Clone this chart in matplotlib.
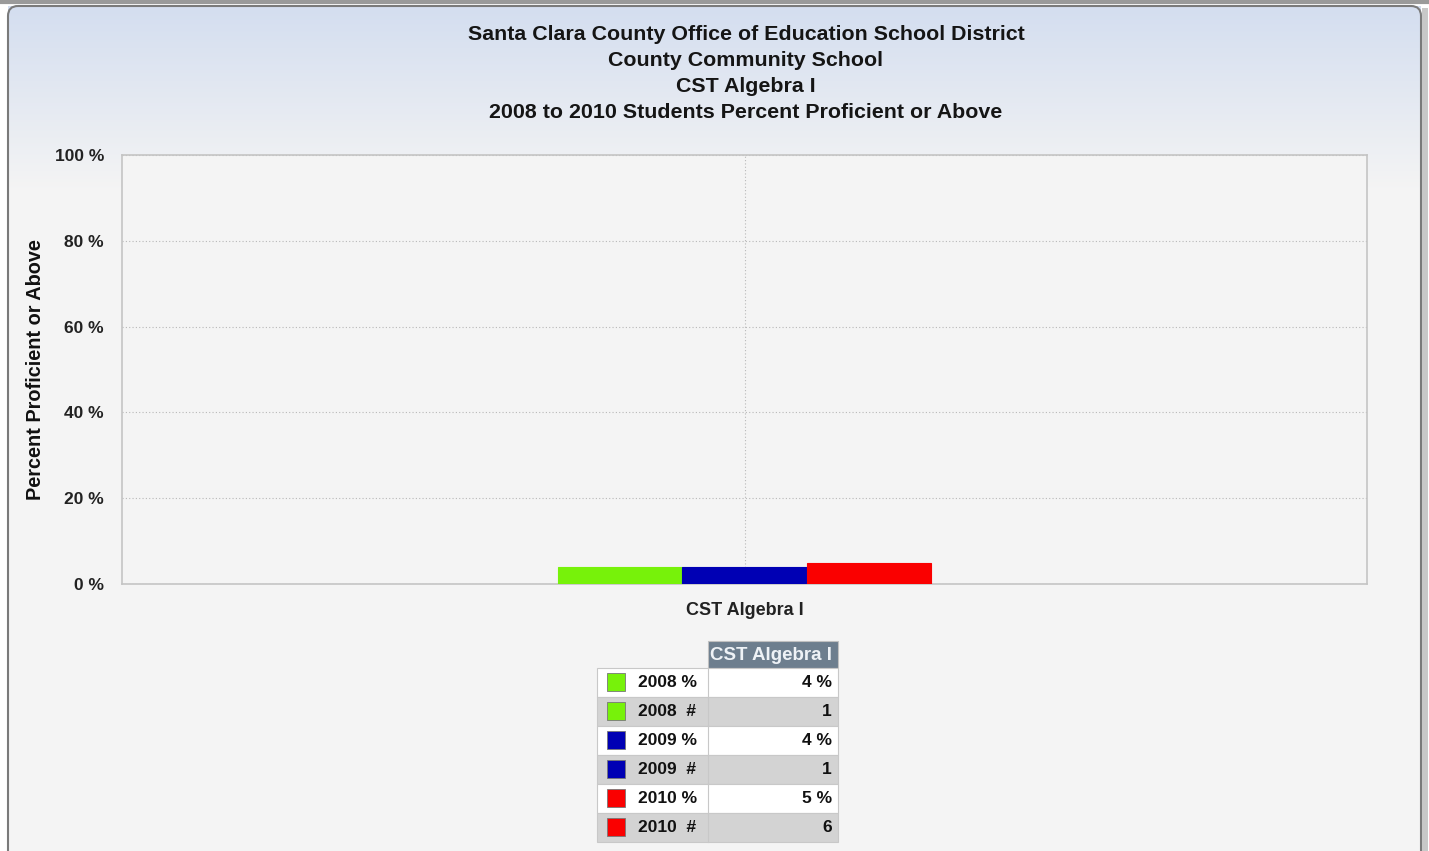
import matplotlib.pyplot as plt
import numpy as np
from matplotlib.patches import FancyBboxPatch, Rectangle

plt.rcParams['font.family'] = ['Liberation Sans', 'DejaVu Sans']

# Data
category = 'CST Algebra I'
years = ['2008', '2009', '2010']
pct_values = [4, 4, 5]
count_values = [1, 1, 6]
colors = ['#77f20a', '#0000b4', '#fa0000']
title_lines = ['Santa Clara County Office of Education School District',
               'County Community School',
               'CST Algebra I',
               '2008 to 2010 Students Percent Proficient or Above']

W, H = 1429, 851
fig = plt.figure(figsize=(W / 100, H / 100), dpi=100)
fig.patch.set_facecolor('white')

# full-figure pixel axes for the panel, titles and table
bg = fig.add_axes([0, 0, 1, 1])
bg.set_xlim(0, W)
bg.set_ylim(H, 0)
bg.axis('off')

# panel gradient (light blue at top -> light grey)
grad = np.linspace(0, 1, 256).reshape(-1, 1)
top_c = np.array([0.83, 0.87, 0.94])
bot_c = np.array([0.957, 0.957, 0.957])
t = np.clip(grad / 0.85, 0, 1)
img = top_c * (1 - t[..., None]) + bot_c * t[..., None]
img = img.reshape(256, 1, 3)
bg.imshow(img, extent=[8, 1421, 220, 6], aspect='auto', zorder=0)
bg.add_patch(Rectangle((8, 220), 1413, 640, facecolor='#f4f4f4', edgecolor='none', zorder=0))
panel = FancyBboxPatch((8, 6), 1413, 860, boxstyle='round,pad=0,rounding_size=10',
                       facecolor='none', edgecolor='#7a7a7a', linewidth=1.5, zorder=1)
bg.add_patch(panel)
bg.add_patch(Rectangle((1422, 8), 6, 850, facecolor='#c8c8c8', edgecolor='none', zorder=1))
bg.plot([0, W], [1.5, 1.5], color='#9a9a9a', linewidth=3, zorder=1)

for i, line in enumerate(title_lines):
    bg.text(746, 34 + i * 26, line, ha='center', va='center', fontsize=15.4,
            fontweight='bold', color='#151515', zorder=3)

# main chart axes
x0, x1, y0, y1 = 122, 1367, 155, 584
ax = fig.add_axes([x0 / W, 1 - y1 / H, (x1 - x0) / W, (y1 - y0) / H])
ax.set_facecolor('#f4f4f4')
ax.set_zorder(2)

bar_w = 0.1
offsets = [-bar_w, 0, bar_w]
for off, val, col in zip(offsets, pct_values, colors):
    ax.bar(off, val, width=bar_w, color=col, edgecolor=col, linewidth=0.8, zorder=3)

ax.set_xlim(-0.5, 0.5)
ax.set_ylim(0, 100)
ax.set_yticks([0, 20, 40, 60, 80, 100])
ax.set_yticklabels([f'{v} %' for v in [0, 20, 40, 60, 80, 100]],
                   fontsize=12.5, fontweight='bold', color='#222222')
ax.set_xticks([0])
ax.set_xticklabels([category], fontsize=13, fontweight='bold', color='#222222')
ax.tick_params(axis='y', length=0, pad=13)
ax.tick_params(axis='x', length=0, pad=13)
ax.grid(True, color='#b8b8b8', linestyle=(0, (1, 2)), linewidth=0.8)
for s in ax.spines.values():
    s.set_color('#c4c4c4')
    s.set_linewidth(1.2)
ax.set_ylabel('Percent Proficient or Above', fontsize=14.3, fontweight='bold',
              color='#111111', labelpad=7)

# data table below the chart
tx0, tmid, tx1 = 597, 708, 838
hdr_top, row_h = 641, 29
bg.add_patch(Rectangle((tmid, hdr_top), tx1 - tmid, 27, facecolor='#6d7e8e',
                       edgecolor='#c0c0c0', linewidth=0.8, zorder=3))
bg.text(tx1 - 6, hdr_top + 14, category, ha='right', va='center', fontsize=13.5,
        fontweight='bold', color='#eef2f6', zorder=4)

rows = []
for yr, p, n, col in zip(years, pct_values, count_values, colors):
    rows.append((f'{yr} %', f'{p} %', col))
    rows.append((f'{yr}  #', f'{n}', col))

ry = hdr_top + 27
for i, (lab, val, col) in enumerate(rows):
    fc = 'white' if i % 2 == 0 else '#d3d3d3'
    bg.add_patch(Rectangle((tx0, ry), tx1 - tx0, row_h, facecolor=fc,
                           edgecolor='#c8c8c8', linewidth=0.8, zorder=3))
    bg.plot([tmid, tmid], [ry, ry + row_h], color='#c8c8c8', linewidth=0.8, zorder=4)
    bg.add_patch(Rectangle((607, ry + 5), 18, 18, facecolor=col,
                           edgecolor='#777777', linewidth=0.6, zorder=4))
    bg.text(638, ry + row_h / 2, lab, ha='left', va='center', fontsize=12.5,
            fontweight='bold', color='#111111', zorder=4)
    bg.text(tx1 - 6, ry + row_h / 2, val, ha='right', va='center', fontsize=12.5,
            fontweight='bold', color='#111111', zorder=4)
    ry += row_h

fig.savefig('out.png', dpi=100)
